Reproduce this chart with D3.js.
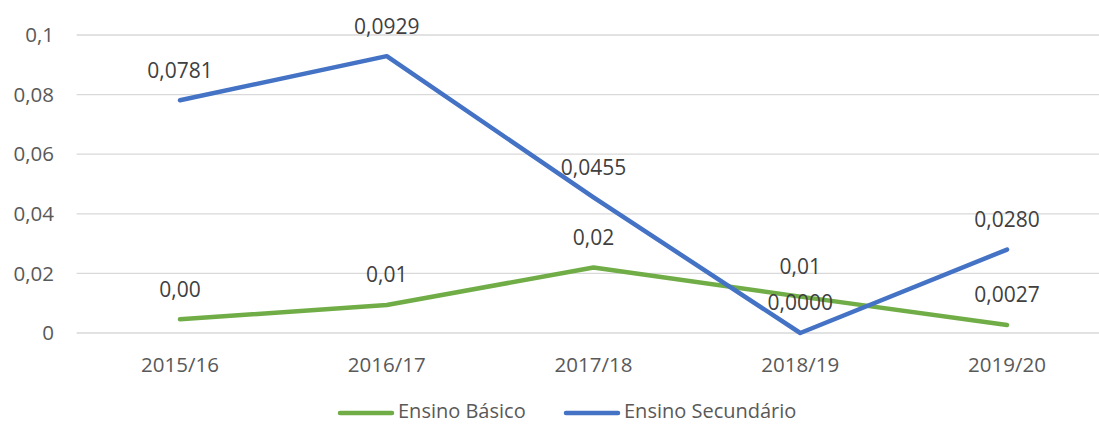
<!DOCTYPE html>
<html><head><meta charset="utf-8">
<script src="https://cdn.jsdelivr.net/npm/d3@7"></script>
<style>body{margin:0;background:#fff}</style>
</head><body>
<svg id="c" width="1099" height="425"></svg>
<script>
const categories = ["2015/16","2016/17","2017/18","2018/19","2019/20"];
const basico = [0.0046, 0.0094, 0.0220, 0.0122, 0.0027];
const basicoLabels = ["0,00","0,01","0,02","0,01","0,0027"];
const secundario = [0.0781, 0.0929, 0.0455, 0.0000, 0.0280];
const secundarioLabels = ["0,0781","0,0929","0,0455","0,0000","0,0280"];
const yTicks = [0, 0.02, 0.04, 0.06, 0.08, 0.1];
const yTickLabels = ["0","0,02","0,04","0,06","0,08","0,1"];
const seriesNames = ["Ensino Básico","Ensino Secundário"];

const svg = d3.select("#c");
const font = "'Open Sans', sans-serif";
const x = d3.scalePoint().domain(categories).range([76.6, 1110.4]).padding(0.5);
const y = d3.scaleLinear().domain([0, 0.1]).range([333, 35]);

// gridlines
svg.append("g").selectAll("line").data(yTicks).join("line")
  .attr("x1", 76.6).attr("x2", 1110).attr("y1", d => y(d)).attr("y2", d => y(d))
  .attr("stroke", "#d9d9d9").attr("stroke-width", 1.3);

// y labels
svg.append("g").selectAll("text").data(yTicks).join("text")
  .attr("x", 54).attr("y", d => y(d)).attr("dy", "0.35em")
  .attr("text-anchor", "end").attr("font-family", font).attr("font-size", 20.5)
  .attr("fill", "#595959").text((d, i) => yTickLabels[i]);

// x labels
svg.append("g").selectAll("text").data(categories).join("text")
  .attr("x", d => x(d)).attr("y", 365).attr("dy", "0.35em")
  .attr("text-anchor", "middle").attr("font-family", font).attr("font-size", 20.5)
  .attr("fill", "#595959").text(d => d);

const series = [
  {vals: basico, labels: basicoLabels, color: "#70AD47"},
  {vals: secundario, labels: secundarioLabels, color: "#4472C4"}
];
const line = d3.line().x((d, i) => x(categories[i])).y(d => y(d));
series.forEach(s => {
  svg.append("path").datum(s.vals).attr("d", line)
    .attr("fill", "none").attr("stroke", s.color).attr("stroke-width", 4.5)
    .attr("stroke-linecap", "round").attr("stroke-linejoin", "round");
});
series.forEach(s => {
  svg.append("g").selectAll("text").data(s.vals).join("text")
    .attr("x", (d, i) => x(categories[i])).attr("y", d => y(d) - 30).attr("dy", "0.35em")
    .attr("text-anchor", "middle").attr("font-family", font).attr("font-size", 21)
    .attr("fill", "#404040").text((d, i) => s.labels[i]);
});

// legend
const leg = [{x: 338, name: seriesNames[0], color: "#70AD47"}, {x: 564, name: seriesNames[1], color: "#4472C4"}];
leg.forEach(l => {
  svg.append("line").attr("x1", l.x + 2).attr("x2", l.x + 54).attr("y1", 413).attr("y2", 413)
    .attr("stroke", l.color).attr("stroke-width", 4.5).attr("stroke-linecap", "round");
  svg.append("text").attr("x", l.x + 60).attr("y", 411).attr("dy", "0.35em")
    .attr("font-family", font).attr("font-size", 20).attr("fill", "#595959").text(l.name);
});
</script>
</body></html>
